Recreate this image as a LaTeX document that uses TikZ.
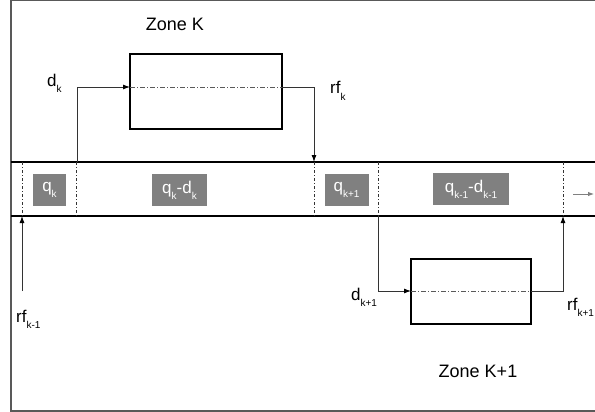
\documentclass[tikz,border=0pt]{standalone}
\usepackage{fontspec}
\setmainfont{Liberation Sans}
\usetikzlibrary{arrows.meta}
\newcommand\lsub[1]{\raisebox{-6pt}{\fontsize{10}{10}\selectfont #1}}
\tikzset{
  frame/.style={draw=black!65, line width=1.3pt},
  chan/.style={draw=black, line width=2pt},
  zonebox/.style={draw=black, line width=1.8pt, minimum width=152pt, minimum height=75pt, inner sep=0pt},
  conn/.style={draw=black!80, line width=0.9pt},
  arr/.style={conn, -{Latex[length=7pt,width=5pt,fill=black,color=black]}},
  centerline/.style={draw=black!65, line width=0.8pt, dash pattern=on 5pt off 2pt on 1pt off 2pt},
  sep/.style={draw=black!80, line width=0.8pt, dash pattern=on 3pt off 2pt on 1pt off 2pt},
  qbox/.style={fill=black!50, text=white, inner sep=0pt, font=\fontsize{17}{17}\selectfont},
  lab/.style={font=\fontsize{17}{17}\selectfont, inner sep=0pt, anchor=base west},
  zlab/.style={font=\fontsize{18}{18}\selectfont, inner sep=0pt, anchor=base},
}
\begin{document}
\begin{tikzpicture}[x=1pt,y=-1pt]
\useasboundingbox (0,0) rectangle (595,412);
% frame
\draw[frame] (596,0.7) -- (11,0.7) -- (11,411) -- (596,411);
% channel
\draw[chan] (11,162) -- (596,162);
\draw[chan] (11,216) -- (596,216);
% separators
\foreach \x/\n in {22/a,76/b,314/c,378/d,563/e}{
  \coordinate (top\n) at (\x,162);
  \coordinate (bot\n) at (\x,216);
  \draw[sep] (top\n) -- (bot\n);
}
% gray boxes
\node[qbox, minimum width=33pt, minimum height=32pt] (q1) at (49.5,190) {q\lsub{k}};
\node[qbox, minimum width=55pt, minimum height=32pt] (q2) at (179.5,190) {q\lsub{k}-d\lsub{k}};
\node[qbox, minimum width=44pt, minimum height=32pt] (q3) at (346.5,190) {q\lsub{k+1}};
\node[qbox, minimum width=76pt, minimum height=32pt] (q4) at (471,189) {q\lsub{k-1}-d\lsub{k-1}};
% flow arrow
\coordinate (fa) at (573,194);
\coordinate (fb) at (594,194);
\draw[draw=black!50, line width=0.9pt, -{Latex[length=6pt,width=4.5pt]}] (fa) -- (fb);

% Zone K
\node[zonebox] (K) at (206,91.5) {};
\coordinate (kin) at (130,87);
\coordinate (kout) at (282,87);
\coordinate (kl) at (77,87);
\coordinate (kr) at (314,87);
\coordinate (klb) at (77,162);
\draw[centerline] (kin) -- (kout);
\draw[arr] (klb) -- (kl) -- (kin);
\draw[arr] (kout) -- (kr) -- (topc);
\node[zlab] (zk) at (175,31) {Zone K};
\node[lab] (dk) at (47,87) {d\lsub{k}};
\node[lab] (rfk) at (330,94) {rf\lsub{k}};

% Zone K+1
\node[zonebox, minimum width=120pt, minimum height=65pt] (K1) at (471,291.5) {};
\coordinate (k1in) at (411,291);
\coordinate (k1out) at (531,291);
\coordinate (k1l) at (378,291);
\coordinate (k1r) at (563,291);
\draw[centerline] (k1in) -- (k1out);
\draw[arr] (botd) -- (k1l) -- (k1in);
\draw[arr] (k1out) -- (k1r) -- (bote);
\node[zlab] (zk1) at (478,377) {Zone K+1};
\node[lab] (dk1) at (351,300) {d\lsub{k+1}};
\node[lab] (rfk1) at (567,310) {rf\lsub{k+1}};

% rf k-1
\coordinate (rfm) at (22,291);
\draw[arr] (rfm) -- (bota);
\node[lab] (rfkm) at (16,322) {rf\lsub{k-1}};
\end{tikzpicture}
\end{document}
